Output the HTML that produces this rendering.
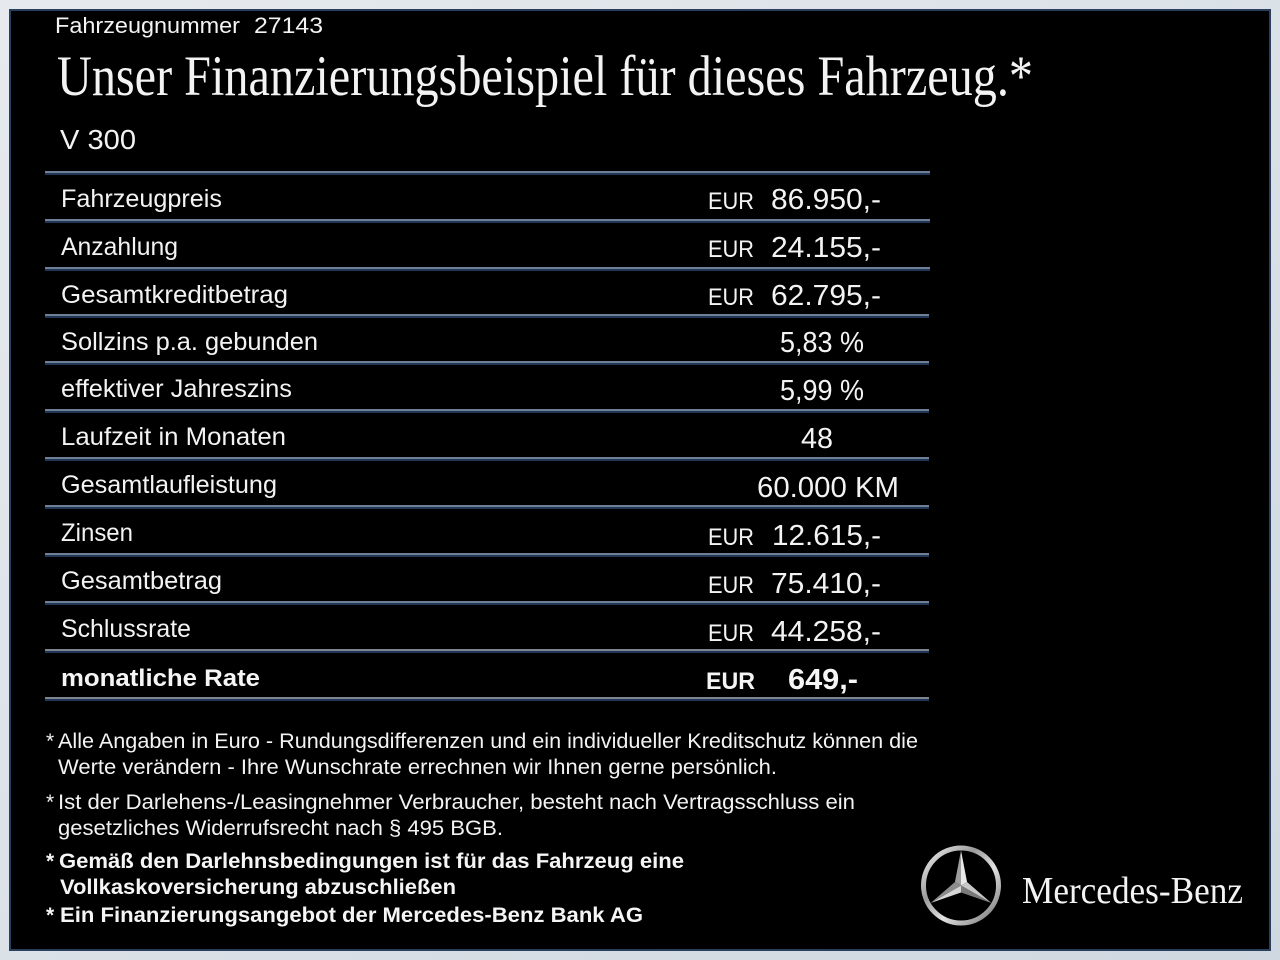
<!DOCTYPE html>
<html>
<head>
<meta charset="utf-8">
<style>
  html,body{margin:0;padding:0;background:#dde3e9;}
  svg{display:block;}
  .s{font-family:"Liberation Sans","DejaVu Sans",sans-serif;fill:#f3f3f3;}
  .b{font-family:"Liberation Sans","DejaVu Sans",sans-serif;font-weight:bold;fill:#f5f5f5;}
  .r{font-family:"Liberation Serif","DejaVu Serif",serif;fill:#f3f3f3;}
</style>
</head>
<body>
<svg width="1280" height="960" viewBox="0 0 1280 960" xmlns="http://www.w3.org/2000/svg">
  <defs>
    <linearGradient id="bg" x1="0" y1="0" x2="1" y2="1">
      <stop offset="0" stop-color="#e6eaee"/>
      <stop offset="1" stop-color="#cfd8e0"/>
    </linearGradient>
    <linearGradient id="silver" x1="0" y1="0" x2="1" y2="1">
      <stop offset="0" stop-color="#f4f4f4"/>
      <stop offset="0.35" stop-color="#9a9a9a"/>
      <stop offset="0.6" stop-color="#e2e2e2"/>
      <stop offset="1" stop-color="#6f6f6f"/>
    </linearGradient>
  </defs>
  <rect x="0" y="0" width="1280" height="960" fill="url(#bg)"/>
  <rect x="10" y="10" width="1260" height="940" fill="#000" stroke="#2a3e5e" stroke-width="2"/>

  <!-- header -->
  <text class="s" x="55" y="33" font-size="22" textLength="185" lengthAdjust="spacingAndGlyphs">Fahrzeugnummer</text>
  <text class="s" x="254" y="33" font-size="22" textLength="69" lengthAdjust="spacingAndGlyphs">27143</text>
  <text class="r" x="57" y="95" font-size="57" textLength="976" lengthAdjust="spacingAndGlyphs">Unser Finanzierungsbeispiel für dieses Fahrzeug.*</text>
  <text class="s" x="60" y="149" font-size="28" textLength="76" lengthAdjust="spacingAndGlyphs">V 300</text>

  <!-- divider lines -->
  <g>
    <rect x="45" y="171" width="885" height="2" fill="#6f8096"/><rect x="45" y="173" width="885" height="2" fill="#203656"/>
    <rect x="45" y="219" width="885" height="2" fill="#6f8096"/><rect x="45" y="221" width="885" height="2" fill="#203656"/>
    <rect x="45" y="267" width="885" height="2" fill="#6f8096"/><rect x="45" y="269" width="885" height="2" fill="#203656"/>
    <rect x="45" y="314" width="884" height="2" fill="#6f8096"/><rect x="45" y="316" width="884" height="2" fill="#203656"/>
    <rect x="45" y="361" width="884" height="2" fill="#6f8096"/><rect x="45" y="363" width="884" height="2" fill="#203656"/>
    <rect x="45" y="409" width="884" height="2" fill="#6f8096"/><rect x="45" y="411" width="884" height="2" fill="#203656"/>
    <rect x="45" y="457" width="884" height="2" fill="#6f8096"/><rect x="45" y="459" width="884" height="2" fill="#203656"/>
    <rect x="45" y="505" width="884" height="2" fill="#6f8096"/><rect x="45" y="507" width="884" height="2" fill="#203656"/>
    <rect x="45" y="553" width="884" height="2" fill="#6f8096"/><rect x="45" y="555" width="884" height="2" fill="#203656"/>
    <rect x="45" y="601" width="884" height="2" fill="#6f8096"/><rect x="45" y="603" width="884" height="2" fill="#203656"/>
    <rect x="45" y="649" width="884" height="2" fill="#7c8590"/><rect x="45" y="651" width="884" height="2" fill="#203656"/>
    <rect x="45" y="697" width="884" height="2" fill="#7c8590"/><rect x="45" y="699" width="884" height="2" fill="#203656"/>
  </g>

  <!-- labels -->
  <text class="s" x="61" y="207" font-size="25" textLength="161" lengthAdjust="spacingAndGlyphs">Fahrzeugpreis</text>
  <text class="s" x="61" y="255" font-size="25" textLength="117" lengthAdjust="spacingAndGlyphs">Anzahlung</text>
  <text class="s" x="61" y="303" font-size="25" textLength="227" lengthAdjust="spacingAndGlyphs">Gesamtkreditbetrag</text>
  <text class="s" x="61" y="350" font-size="25" textLength="257" lengthAdjust="spacingAndGlyphs">Sollzins p.a. gebunden</text>
  <text class="s" x="61" y="397" font-size="25" textLength="231" lengthAdjust="spacingAndGlyphs">effektiver Jahreszins</text>
  <text class="s" x="61" y="445" font-size="25" textLength="225" lengthAdjust="spacingAndGlyphs">Laufzeit in Monaten</text>
  <text class="s" x="61" y="493" font-size="25" textLength="216" lengthAdjust="spacingAndGlyphs">Gesamtlaufleistung</text>
  <text class="s" x="61" y="541" font-size="25" textLength="72" lengthAdjust="spacingAndGlyphs">Zinsen</text>
  <text class="s" x="61" y="589" font-size="25" textLength="161" lengthAdjust="spacingAndGlyphs">Gesamtbetrag</text>
  <text class="s" x="61" y="637" font-size="25" textLength="130" lengthAdjust="spacingAndGlyphs">Schlussrate</text>
  <text class="b" x="61" y="686" font-size="24" textLength="199" lengthAdjust="spacingAndGlyphs">monatliche Rate</text>

  <!-- values -->
  <text class="s" x="708" y="209" font-size="24" textLength="46" lengthAdjust="spacingAndGlyphs">EUR</text>
  <text class="s" x="771" y="209" font-size="29" textLength="110" lengthAdjust="spacingAndGlyphs">86.950,-</text>
  <text class="s" x="708" y="257" font-size="24" textLength="46" lengthAdjust="spacingAndGlyphs">EUR</text>
  <text class="s" x="771" y="257" font-size="29" textLength="110" lengthAdjust="spacingAndGlyphs">24.155,-</text>
  <text class="s" x="708" y="305" font-size="24" textLength="46" lengthAdjust="spacingAndGlyphs">EUR</text>
  <text class="s" x="771" y="305" font-size="29" textLength="110" lengthAdjust="spacingAndGlyphs">62.795,-</text>
  <text class="s" x="780" y="352" font-size="29" textLength="84" lengthAdjust="spacingAndGlyphs">5,83 %</text>
  <text class="s" x="780" y="400" font-size="29" textLength="84" lengthAdjust="spacingAndGlyphs">5,99 %</text>
  <text class="s" x="801" y="448" font-size="29" textLength="32" lengthAdjust="spacingAndGlyphs">48</text>
  <text class="s" x="757" y="497" font-size="29" textLength="142" lengthAdjust="spacingAndGlyphs">60.000 KM</text>
  <text class="s" x="708" y="545" font-size="24" textLength="46" lengthAdjust="spacingAndGlyphs">EUR</text>
  <text class="s" x="772" y="545" font-size="29" textLength="109" lengthAdjust="spacingAndGlyphs">12.615,-</text>
  <text class="s" x="708" y="593" font-size="24" textLength="46" lengthAdjust="spacingAndGlyphs">EUR</text>
  <text class="s" x="771" y="593" font-size="29" textLength="110" lengthAdjust="spacingAndGlyphs">75.410,-</text>
  <text class="s" x="708" y="641" font-size="24" textLength="46" lengthAdjust="spacingAndGlyphs">EUR</text>
  <text class="s" x="771" y="641" font-size="29" textLength="110" lengthAdjust="spacingAndGlyphs">44.258,-</text>
  <text class="b" x="706" y="689" font-size="24" textLength="49" lengthAdjust="spacingAndGlyphs">EUR</text>
  <text class="b" x="788" y="689" font-size="29" textLength="70" lengthAdjust="spacingAndGlyphs">649,-</text>

  <!-- footnotes -->
  <text class="s" x="46" y="748" font-size="21">*</text>
  <text class="s" x="58" y="748" font-size="21" textLength="860" lengthAdjust="spacingAndGlyphs">Alle Angaben in Euro - Rundungsdifferenzen und ein individueller Kreditschutz können die</text>
  <text class="s" x="58" y="774" font-size="21" textLength="719" lengthAdjust="spacingAndGlyphs">Werte verändern - Ihre Wunschrate errechnen wir Ihnen gerne persönlich.</text>
  <text class="s" x="46" y="809" font-size="21">*</text>
  <text class="s" x="58" y="809" font-size="21" textLength="797" lengthAdjust="spacingAndGlyphs">Ist der Darlehens-/Leasingnehmer Verbraucher, besteht nach Vertragsschluss ein</text>
  <text class="s" x="58" y="835" font-size="21" textLength="445" lengthAdjust="spacingAndGlyphs">gesetzliches  Widerrufsrecht nach § 495 BGB.</text>
  <text class="b" x="46" y="868" font-size="21">*</text>
  <text class="b" x="59" y="868" font-size="21" textLength="625" lengthAdjust="spacingAndGlyphs">Gemäß den Darlehnsbedingungen ist für das Fahrzeug eine</text>
  <text class="b" x="60" y="894" font-size="21" textLength="396" lengthAdjust="spacingAndGlyphs">Vollkaskoversicherung abzuschließen</text>
  <text class="b" x="46" y="922" font-size="21">*</text>
  <text class="b" x="60" y="922" font-size="21" textLength="583" lengthAdjust="spacingAndGlyphs">Ein Finanzierungsangebot der Mercedes-Benz Bank AG</text>

  <!-- logo -->
  <circle cx="961" cy="885.5" r="37.5" fill="none" stroke="url(#silver)" stroke-width="5"/>
  <g>
    <polygon points="961,885.5 961,850.5 967.06,882" fill="#e9e9e9"/>
    <polygon points="961,885.5 961,850.5 954.94,882" fill="#9d9d9d"/>
    <polygon points="961,885.5 991.31,903 967.06,882" fill="#c8c8c8"/>
    <polygon points="961,885.5 991.31,903 961,892.5" fill="#7a7a7a"/>
    <polygon points="961,885.5 930.69,903 961,892.5" fill="#d5d5d5"/>
    <polygon points="961,885.5 930.69,903 954.94,882" fill="#8c8c8c"/>
  </g>
  <text class="r" x="1022" y="903" font-size="38" textLength="221" lengthAdjust="spacingAndGlyphs">Mercedes-Benz</text>
</svg>
</body>
</html>
